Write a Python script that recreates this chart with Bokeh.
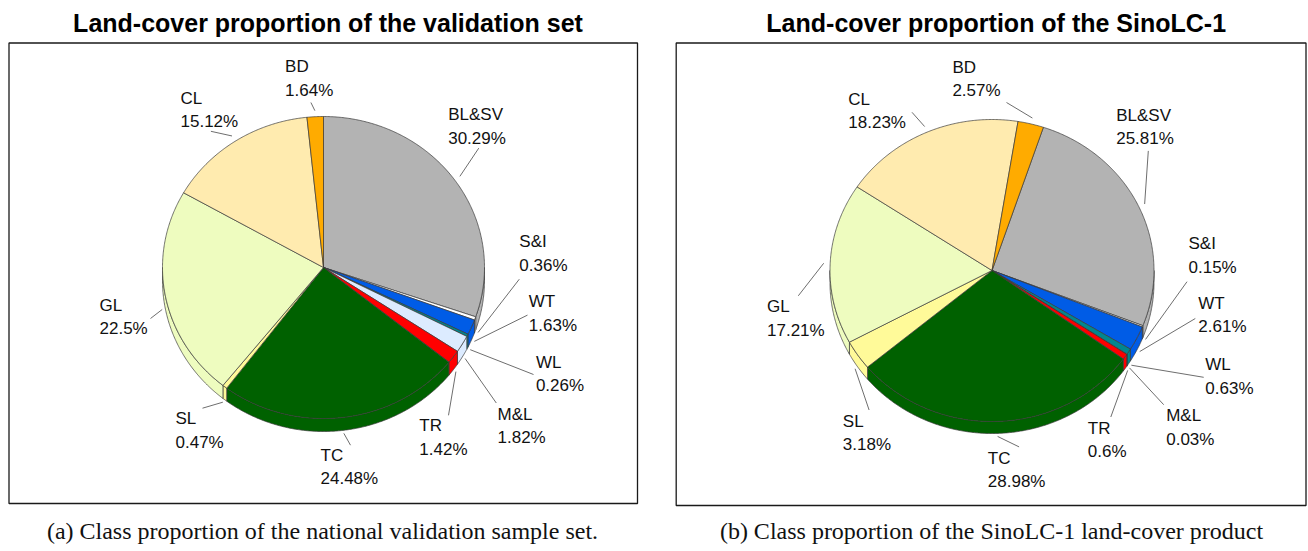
import numpy as np
from bokeh.plotting import figure
from bokeh.models import Range1d, ColumnDataSource
from bokeh.embed import file_html
from bokeh.resources import INLINE
from bokeh.core.properties import value

# ---------------- data ----------------
classes = ["BL&SV", "S&I", "WT", "WL", "M&L", "TR", "TC", "SL", "GL", "CL", "BD"]
validation_pct = [30.29, 0.36, 1.63, 0.26, 1.82, 1.42, 24.48, 0.47, 22.5, 15.12, 1.64]
sinolc_pct = [25.81, 0.15, 2.61, 0.63, 0.03, 0.6, 28.98, 3.18, 17.21, 18.23, 2.57]
class_colors = ["#B3B3B3", "#FFFFFF", "#005CE6", "#00878F", "#DCEBFF", "#FF0000",
                "#006100", "#FFFA99", "#EEFCBF", "#FFEBAF", "#FFAB00"]
titles = ["Land-cover proportion of the validation set",
          "Land-cover proportion of the SinoLC-1"]
captions = ["(a) Class proportion of the national validation sample set.",
            "(b) Class proportion of the SinoLC-1 land-cover product"]

# ---------------- layout (screen pixels of the picture) ----------------
W, H = 1308, 551
OX, OY = 0, 551


def X(sx):
    return np.asarray(sx, dtype=float) - OX


def Y(sy):
    return OY - np.asarray(sy, dtype=float)


panels = [
    dict(values=validation_pct, cx=323.0, cy=267.0, rx=161.0, ry=151.0, depth=13.0, start=90.0,
         box=(8.5, 42.5, 637.0, 503.0), title_x=327.5, caption_x=322.0,
         label_pos=[(447.7, 120.7), (518.8, 247.8), (528.3, 307.6), (535.4, 368.4), (497.0, 420.0),
                    (418.8, 431.6), (320.0, 461.0), (175.0, 424.6), (99.0, 311.0), (180.0, 104.4),
                    (284.6, 72.8)],
         leader_out=[(478.3, 147.6), (518.8, 278.7), (527.0, 314.6), (533.0, 374.0), (495.8, 402.5),
                     (448.0, 414.8), (350.0, 444.7), (202.0, 407.7), (150.0, 318.0), (210.4, 130.8),
                     (310.4, 102.0)]),
    dict(values=sinolc_pct, cx=991.5, cy=270.0, rx=162.0, ry=151.0, depth=12.0, start=71.5,
         box=(675.7, 42.5, 1305.5, 505.0), title_x=995.7, caption_x=991.0,
         label_pos=[(1115.7, 121.3), (1188.0, 249.6), (1197.8, 309.3), (1204.8, 370.8), (1165.7, 421.8),
                    (1087.3, 434.0), (987.3, 464.0), (842.3, 427.0), (766.5, 312.8), (847.8, 105.4),
                    (951.9, 73.0)],
         leader_out=[(1147.8, 150.4), (1186.5, 281.2), (1194.8, 318.0), (1203.2, 376.8), (1163.2, 404.2),
                     (1110.3, 416.5), (1018.6, 446.4), (868.6, 409.5), (797.8, 295.3), (911.5, 111.8),
                     (1006.0, 102.0)]),
]

LINE_GAP = 23.5
LABEL_FONT = "17px"
LABEL_SHIFT = 6.5     # renderer places alphabetic baseline a bit low
TITLE_SHIFT = 8.5
CAPTION_SHIFT = 6.5

p = figure(width=W, height=H, x_range=Range1d(0, W), y_range=Range1d(0, H),
           output_backend="svg", toolbar_location=None, min_border=0,
           x_axis_location=None, y_axis_location=None)
p.grid.grid_line_color = None
p.outline_line_color = None
p.background_fill_color = "white"
p.border_fill_color = "white"


def arc(cx, cy, rx, ry, a0, a1, dy=0.0):
    n = max(3, int(abs(a1 - a0) * 2) + 2)
    t = np.radians(np.linspace(a0, a1, n))
    return cx + rx * np.cos(t), cy - ry * np.sin(t) + dy


for pn in panels:
    vals = np.array(pn["values"], dtype=float)
    frac = vals / vals.sum()
    bounds = pn["start"] - 360.0 * np.concatenate([[0.0], np.cumsum(frac)])
    a_start, a_end = bounds[:-1], bounds[1:]
    cx, cy, rx, ry, dep = pn["cx"], pn["cy"], pn["rx"], pn["ry"], pn["depth"]

    # box
    bl, bt, br, bb = pn["box"]
    p.quad(left=[X(bl)], right=[X(br)], top=[Y(bt)], bottom=[Y(bb)],
           fill_color=None, line_color="#1a1a1a", line_width=1.3)

    # side walls (front half of the pie)
    sxs, sys, scol = [], [], []
    for i in range(len(vals)):
        for k in (-1, 0, 1):
            lo = max(a_end[i], -180.0 + 360.0 * k)
            hi = min(a_start[i], 0.0 + 360.0 * k)
            if hi > lo:
                tx, ty = arc(cx, cy, rx, ry, hi, lo)
                bx, by = arc(cx, cy, rx, ry, lo, hi, dy=dep)
                sxs.append(list(X(np.concatenate([tx, bx]))))
                sys.append(list(Y(np.concatenate([ty, by]))))
                scol.append(class_colors[i])
    p.patches(xs="xs", ys="ys", fill_color="c", line_color="#3a3a3a", line_width=0.7,
              source=ColumnDataSource(dict(xs=sxs, ys=sys, c=scol)))

    # top faces
    txs, tys = [], []
    for i in range(len(vals)):
        ax, ay = arc(cx, cy, rx, ry, a_start[i], a_end[i])
        txs.append(list(X(np.concatenate([[cx], ax]))))
        tys.append(list(Y(np.concatenate([[cy], ay]))))
    p.patches(xs="xs", ys="ys", fill_color="c", line_color="#3a3a3a", line_width=0.7,
              source=ColumnDataSource(dict(xs=txs, ys=tys, c=class_colors)))

    # leader lines
    lx, ly = [], []
    mids = np.radians((a_start + a_end) / 2.0)
    for i in range(len(vals)):
        s = np.sin(mids[i])
        if s < 0:
            ix = cx + rx * 1.02 * np.cos(mids[i])
            iy = cy - ry * 1.02 * s + dep
        else:
            ix = cx + rx * 1.04 * np.cos(mids[i])
            iy = cy - ry * 1.04 * s
        ox, oy = pn["leader_out"][i]
        lx.append(list(X([ox, ix])))
        ly.append(list(Y([oy, iy])))
    p.multi_line(xs=lx, ys=ly, line_color="#6e6e6e", line_width=1)

    # labels
    lpx = [q[0] for q in pn["label_pos"]]
    lpy = np.array([q[1] for q in pn["label_pos"]]) - LABEL_SHIFT
    pct_txt = [f"{v:g}%" for v in pn["values"]]
    p.text(x=list(X(lpx)), y=list(Y(lpy)), text=classes,
           text_font=value("Liberation Sans"), text_font_size=LABEL_FONT,
           text_align="left", text_baseline="alphabetic", text_color="#111111")
    p.text(x=list(X(lpx)), y=list(Y(lpy + LINE_GAP)), text=pct_txt,
           text_font=value("Liberation Sans"), text_font_size=LABEL_FONT,
           text_align="left", text_baseline="alphabetic", text_color="#111111")

# titles and captions
p.text(x=list(X([pn["title_x"] for pn in panels])), y=list(Y([31.0 - TITLE_SHIFT] * 2)), text=titles,
       text_font=value("Liberation Sans"), text_font_size="25px", text_font_style="bold",
       text_align="center", text_baseline="alphabetic", text_color="#000000")
p.text(x=list(X([pn["caption_x"] for pn in panels])), y=list(Y([537.0 - CAPTION_SHIFT] * 2)), text=captions,
       text_font=value("Liberation Serif"), text_font_size="24px",
       text_align="center", text_baseline="alphabetic", text_color="#111111")

open("out.html", "w").write(file_html(p, INLINE))
